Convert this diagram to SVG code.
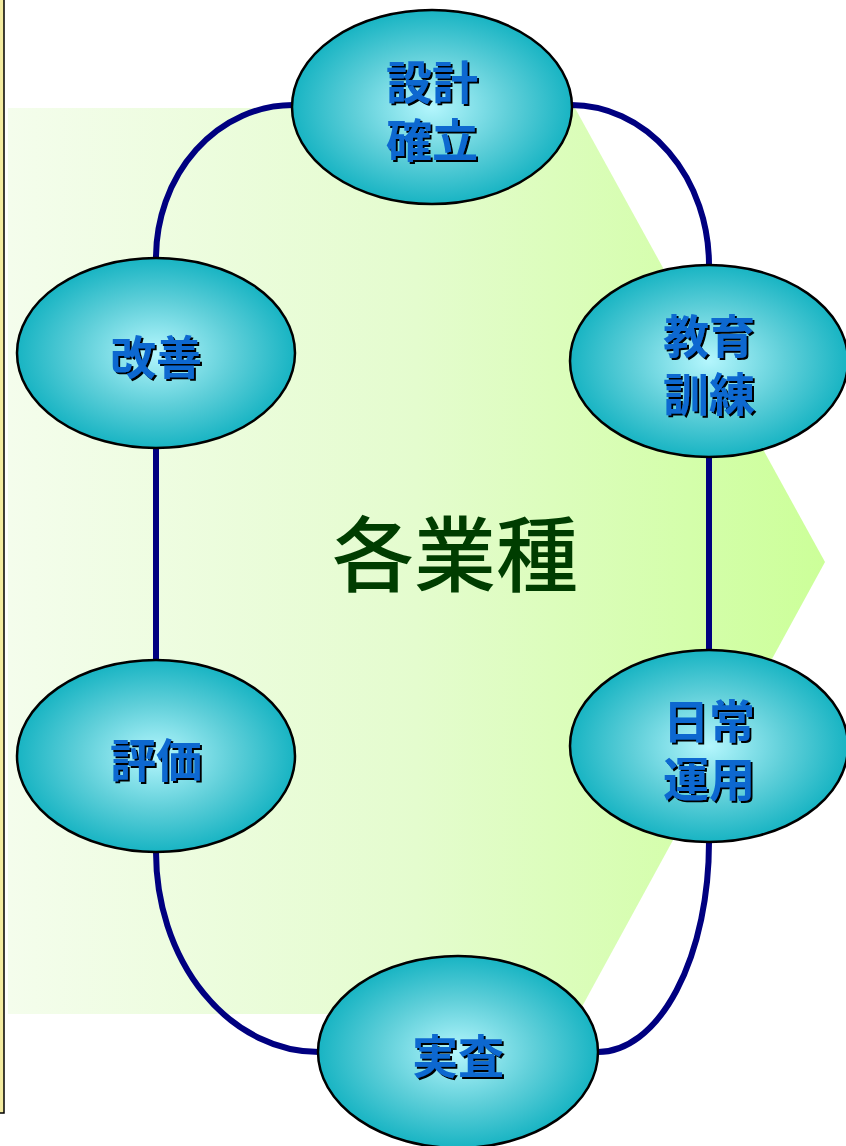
<svg xmlns="http://www.w3.org/2000/svg" width="846" height="1146" viewBox="0 0 846 1146">
<defs>
<linearGradient id="bg" x1="0" y1="0" x2="1" y2="0">
<stop offset="0" stop-color="#f4fdec"/>
<stop offset="0.5" stop-color="#e4fcce"/>
<stop offset="1" stop-color="#ccff99"/>
</linearGradient>
<radialGradient id="ell" cx="0.5" cy="0.5" r="0.5">
<stop offset="0" stop-color="#b4f6fd"/>
<stop offset="0.55" stop-color="#5fcfd9"/>
<stop offset="1" stop-color="#18b4c3"/>
</radialGradient>
<filter id="sh" x="-10%" y="-10%" width="130%" height="130%">
<feOffset in="SourceAlpha" dx="2" dy="2" result="o"/>
<feMerge><feMergeNode in="o"/><feMergeNode in="SourceGraphic"/></feMerge>
</filter>
</defs>
<style>
.node ellipse{fill:url(#ell);stroke:#000;stroke-width:2.5}
.node text{font-family:"Noto Sans CJK JP","Noto Sans CJK SC",sans-serif;font-weight:bold;font-size:46px;fill:#0a68d0;text-anchor:middle;filter:url(#sh)}
.conn path{fill:none;stroke:#000080;stroke-width:6}
</style>
<rect x="-10" y="-10" width="14" height="1123" fill="#f3eba0" stroke="#000" stroke-width="1.5"/>
<polygon points="8,108 575,108 825,562 578,1014 8,1014" fill="url(#bg)"/>
<text x="455" y="585" font-family="Noto Sans CJK JP,sans-serif" font-size="82" fill="#003d00" text-anchor="middle" font-weight="500">各業種</text>
<g id="connectors" class="conn">
<path d="M293,105 A137,153 0 0 0 156,258"/>
<path d="M571,105 A138,160 0 0 1 709,265"/>
<path d="M156,449 L156,660"/>
<path d="M709,457 L709,650"/>
<path d="M156,852 A163,200 0 0 0 319,1052"/>
<path d="M709,842 A111,210 0 0 1 598,1052"/>
</g>
<g id="n1" class="node"><ellipse cx="432" cy="107" rx="140" ry="97"/><text x="432" y="99">設計<tspan x="432" y="157">確立</tspan></text></g>
<g id="n2" class="node"><ellipse cx="156" cy="353" rx="139" ry="95"/><text x="156" y="374">改善</text></g>
<g id="n3" class="node"><ellipse cx="709" cy="361" rx="139" ry="96"/><text x="709" y="353">教育<tspan x="709" y="411">訓練</tspan></text></g>
<g id="n4" class="node"><ellipse cx="156" cy="756" rx="139" ry="96"/><text x="156" y="777">評価</text></g>
<g id="n5" class="node"><ellipse cx="709" cy="746" rx="139" ry="96"/><text x="709" y="738">日常<tspan x="709" y="796">運用</tspan></text></g>
<g id="n6" class="node"><ellipse cx="458" cy="1052" rx="140" ry="96"/><text x="458" y="1073">実査</text></g>
</svg>
